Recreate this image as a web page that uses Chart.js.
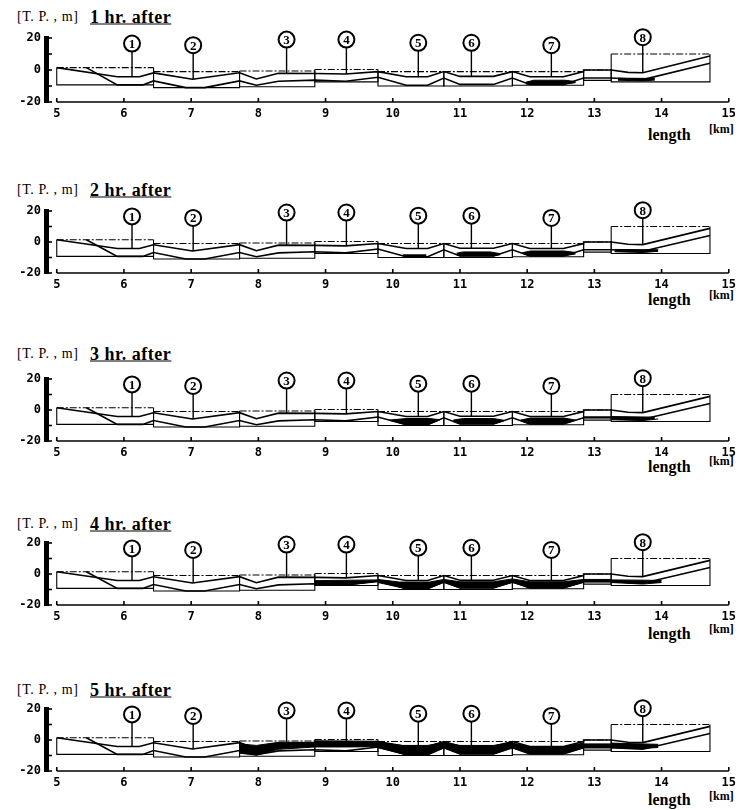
<!DOCTYPE html>
<html>
<head>
<meta charset="utf-8">
<script src="https://cdn.jsdelivr.net/npm/chart.js@4.4.0/dist/chart.umd.min.js"></script>
<style>
  body { margin:0; background:#fff; width:741px; height:810px; position:relative; overflow:hidden; font-family:"Liberation Serif", serif; color:#000; }
  canvas { position:absolute; left:0; }
  .unit { position:absolute; left:17px; font-size:14px; transform:translateY(-50%); letter-spacing:0.6px; }
  .ttl { position:absolute; left:90px; font-size:18px; font-weight:bold; text-decoration:underline; transform:translateY(-50%); letter-spacing:0.5px; }
  .len { position:absolute; left:648px; font-size:16px; font-weight:bold; transform:translateY(-50%); }
  .km { position:absolute; left:709px; font-size:12px; font-weight:bold; transform:translateY(-50%); white-space:nowrap; }
</style>
</head>
<body>
<script>
// ---- data (km along river, elevation T.P. m) ----
const xTicks = [5, 6, 7, 8, 9, 10, 11, 12, 13, 14, 15];
const yTicks = [-20, -10, 0, 10, 20];
const hours = ['1 hr. after', '2 hr. after', '3 hr. after', '4 hr. after', '5 hr. after'];

// section boundaries and box levels
const sectionEdges = [5.0, 6.44, 7.72, 8.84, 9.78, 10.76, 11.78, 12.84, 13.25, 14.72];
const boxTop    = [1.5, -1, -0.6, 0.3, -1, -1, -1, 0, 10];
const boxBottom = [-9.3, -11, -10.5, -7.4, -10, -10, -9.5, -6.5, -7.4];

const upperLine = [[5.0,1.5],[5.9,-4.2],[6.23,-4.2],[6.44,-1.8],[7.02,-5.8],[7.72,-1.7],[7.97,-5.6],[8.3,-2],[8.84,-2.2],
  [9.3,-2.5],[9.78,-1],[10.2,-4.2],[10.52,-4.2],[10.76,-1],[11.0,-4],[11.5,-4],[11.78,-1],[12.04,-4.2],[12.54,-4.2],
  [12.84,-1],[12.84,0],[13.25,0],[13.5,-1.5],[13.72,-1.7],[14.72,8.8]];
const lowerLine = [[5.44,1.5],[5.9,-9.3],[6.28,-9.3],[6.44,-6.8],[6.92,-11],[7.2,-11],[7.72,-6.8],[7.97,-9.5],[8.3,-7],
  [8.84,-6.3],[9.3,-7],[9.78,-4.5],[10.2,-9.5],[10.52,-9.5],[10.76,-5],[11.0,-9],[11.5,-9],[11.78,-5],[12.04,-9],
  [12.54,-9],[12.84,-5],[13.25,-5],[13.72,-6],[14.72,4.2]];

// circled section numbers
const labelNames = ['1', '2', '3', '4', '5', '6', '7', '8'];
const labelX     = [6.12, 7.03, 8.42, 9.31, 10.38, 11.17, 12.36, 13.72];
const labelY     = [16.5, 15.5, 19, 19, 17, 17, 15.5, 20.5];
const leaderTop  = [11.5, 10.5, 14, 14, 12, 12, 10.5, 15.5];
const leaderEnd  = [-4.2, -5.8, -2.1, -2.5, -4.2, -4, -4.2, -1.7];

// black deposit areas, top edge / bottom edge
const deposits1h = [
  { top: [[11.98,-7.6],[12.1,-6.4],[12.56,-6.4],[12.72,-7.2]], bot: [[11.98,-8.7],[12.04,-9],[12.54,-9],[12.72,-7.9]] },
  { top: [[13.35,-5.1],[13.9,-5.3]], bot: [[13.35,-6.4],[13.72,-6.8],[13.9,-6.3]] }
];
const deposits2h = [
  { top: [[10.15,-8.3],[10.5,-8.3]], bot: [[10.15,-9.5],[10.5,-9.5]] },
  { top: [[10.95,-7.2],[11.05,-6.4],[11.45,-6.4],[11.6,-7.5]], bot: [[10.95,-8.2],[11.0,-9],[11.5,-9],[11.6,-8.2]] },
  { top: [[11.92,-7],[12.05,-5.8],[12.55,-5.8],[12.72,-6.8]], bot: [[11.92,-7.2],[12.04,-9],[12.54,-9],[12.72,-7.7]] },
  { top: [[13.3,-4.8],[13.95,-5]], bot: [[13.3,-6.3],[13.72,-6.8],[13.95,-6]] }
];
const deposits3h = [
  { top: [[9.95,-6.5],[10.2,-5.5],[10.55,-5.5],[10.7,-6.3]], bot: [[9.95,-6.6],[10.2,-9.5],[10.52,-9.5],[10.7,-6.3]] },
  { top: [[10.9,-6.5],[11.05,-5.5],[11.5,-5.5],[11.65,-6.6]], bot: [[10.9,-7.2],[11.0,-9],[11.5,-9],[11.65,-7.1]] },
  { top: [[11.9,-6.5],[12.05,-5.2],[12.55,-5.2],[12.72,-6.5]], bot: [[11.9,-6.9],[12.04,-9],[12.54,-9],[12.72,-6.6]] },
  { top: [[12.84,-4.4],[13.25,-4.4]], bot: [[12.84,-5],[13.25,-5]] },
  { top: [[13.25,-4.2],[13.9,-4.6]], bot: [[13.25,-6.3],[13.72,-6.8],[13.95,-5.8]] }
];
const deposits4h = [
  { top: [[8.84,-4.3],[9.78,-3.8]], bot: [[8.84,-6.8],[9.3,-7.2],[9.78,-5]] },
  { top: [[9.78,-3.5],[10.1,-5.2],[10.55,-5.2],[10.76,-3.5]], bot: [[9.78,-5.5],[10.2,-9.5],[10.52,-9.5],[10.76,-5.5]] },
  { top: [[10.76,-3.5],[11.0,-5],[11.5,-5],[11.78,-3.2]], bot: [[10.76,-5.5],[11.0,-9],[11.5,-9],[11.78,-5.5]] },
  { top: [[11.78,-3.2],[12.04,-5],[12.54,-5],[12.84,-3.5]], bot: [[11.78,-5.5],[12.04,-9],[12.54,-9],[12.84,-5.5]] },
  { top: [[12.84,-3.5],[13.25,-3.5]], bot: [[12.84,-5],[13.25,-5]] },
  { top: [[13.25,-3.8],[13.75,-4],[14.0,-4.2]], bot: [[13.25,-5.5],[13.72,-6.5],[14.0,-5.5]] }
];
const deposits5h = [
  { top: [[7.72,-2.5],[7.97,-3.5],[8.3,-1.5],[8.84,-1.5]], bot: [[7.72,-8.5],[7.97,-9.8],[8.3,-6],[8.84,-4.5]] },
  { top: [[8.84,-0.5],[9.78,-0.8]], bot: [[8.84,-4.5],[9.3,-4.5],[9.78,-4.3]] },
  { top: [[9.78,-1.5],[10.15,-3.5],[10.52,-3.5],[10.76,-1.5]], bot: [[9.78,-5],[10.2,-9.5],[10.52,-9.5],[10.76,-5]] },
  { top: [[10.76,-1.5],[11.0,-3.5],[11.5,-3.5],[11.78,-1.5]], bot: [[10.76,-5],[11.0,-9],[11.5,-9],[11.78,-5]] },
  { top: [[11.78,-2],[12.04,-4.3],[12.54,-4.3],[12.84,-2]], bot: [[11.78,-5],[12.04,-8.7],[12.54,-8.7],[12.84,-5]] },
  { top: [[12.84,-2.5],[13.25,-2.5]], bot: [[12.84,-4.2],[13.25,-4.2]] },
  { top: [[13.25,-2],[13.7,-2.5],[13.95,-2.8]], bot: [[13.25,-5],[13.72,-5.5],[13.95,-4.8]] }
];
const depositsByHour = [deposits1h, deposits2h, deposits3h, deposits4h, deposits5h];

// ---- page layout (px) ----
const chartTop    = [38, 211, 379, 543, 709];
const chartBottom = [102, 273, 441, 605, 771];
const titleY  = [17, 190, 354, 524, 690];
const lengthY = [135, 300, 467, 634, 800];
const kmY     = [129, 295, 461, 629, 796];
const PAD_TOP = 14, X_AXIS_H = 24;

function pts(arr) { return arr.map(([x, y]) => ({ x, y })); }
function line(arr, extra) {
  return Object.assign({ data: pts(arr), borderColor: '#000', borderWidth: 1.4, pointRadius: 0,
    fill: false, tension: 0 }, extra || {});
}

const markerPlugin = {
  id: 'markers',
  afterDatasetsDraw(chart) {
    const { ctx, chartArea } = chart;
    const x = chart.scales.x, y = chart.scales.y;
    ctx.save();
    ctx.strokeStyle = '#000';
    // x axis line from first to last tick, ticks pointing up
    ctx.lineWidth = 1.6;
    ctx.beginPath();
    ctx.moveTo(x.getPixelForValue(xTicks[0]), chartArea.bottom);
    ctx.lineTo(x.getPixelForValue(xTicks[xTicks.length - 1]), chartArea.bottom);
    ctx.stroke();
    xTicks.forEach(v => {
      const px = x.getPixelForValue(v);
      ctx.beginPath(); ctx.moveTo(px, chartArea.bottom); ctx.lineTo(px, chartArea.bottom - 4); ctx.stroke();
    });
    yTicks.forEach(v => {
      const py = y.getPixelForValue(v);
      ctx.beginPath(); ctx.moveTo(chartArea.left, py); ctx.lineTo(chartArea.left + 6, py); ctx.stroke();
    });
    labelNames.forEach((n, i) => {
      const px = x.getPixelForValue(labelX[i]), py = y.getPixelForValue(labelY[i]);
      ctx.beginPath(); ctx.arc(px, py, 8, 0, Math.PI * 2);
      ctx.fillStyle = '#fff'; ctx.fill();
      ctx.lineWidth = 2; ctx.stroke();
      ctx.fillStyle = '#000';
      ctx.font = 'bold 13px "Liberation Serif"';
      ctx.textAlign = 'center'; ctx.textBaseline = 'middle';
      ctx.fillText(n, px, py + 1);
    });
    ctx.restore();
  }
};

function addText(cls, txt, top) {
  const d = document.createElement('div');
  d.className = cls; d.textContent = txt; d.style.top = top + 'px';
  document.body.appendChild(d);
}

hours.forEach((h, p) => {
  addText('unit', '[T. P. , m]', titleY[p]);
  addText('ttl', h, titleY[p]);
  addText('len', 'length', lengthY[p]);
  addText('km', '[km]', kmY[p]);

  const cv = document.createElement('canvas');
  cv.width = 741;
  cv.height = (chartBottom[p] - chartTop[p]) + PAD_TOP + X_AXIS_H;
  cv.style.top = (chartTop[p] - PAD_TOP) + 'px';
  document.body.appendChild(cv);

  const ds = [];
  // deposits (filled black between bottom edge and top edge)
  depositsByHour[p].forEach(d => {
    const bi = ds.length;
    ds.push(line(d.bot, { borderWidth: 1 }));
    ds.push(line(d.top, { borderWidth: 1, fill: { target: bi }, backgroundColor: '#000' }));
  });
  // section boxes
  for (let i = 0; i < boxTop.length; i++) {
    const x0 = sectionEdges[i], x1 = sectionEdges[i + 1];
    ds.push(line([[x0, boxTop[i]], [x0, boxBottom[i]], [x1, boxBottom[i]], [x1, boxTop[i]]], { borderWidth: 1.1 }));
    ds.push(line([[x0, boxTop[i]], [x1, boxTop[i]]], { borderWidth: 1.1, borderDash: [7, 2, 2, 2] }));
  }
  ds.push(line(upperLine, { borderWidth: 1.6 }));
  ds.push(line(lowerLine, { borderWidth: 1.6 }));
  // leader lines
  for (let i = 0; i < labelX.length; i++) {
    ds.push(line([[labelX[i], leaderTop[i]], [labelX[i], leaderEnd[i]]], { borderWidth: 1.4 }));
  }

  new Chart(cv, {
    type: 'line',
    data: { datasets: ds },
    options: {
      responsive: false,
      animation: false,
      devicePixelRatio: 1,
      layout: { padding: { top: PAD_TOP, right: 7, left: 0, bottom: 0 } },
      plugins: { legend: { display: false }, tooltip: { enabled: false } },
      scales: {
        x: {
          type: 'linear', min: 4.84, max: 15,
          afterBuildTicks: s => { s.ticks = xTicks.map(v => ({ value: v })); },
          afterFit: s => { s.height = X_AXIS_H; },
          grid: { display: false, drawTicks: false },
          border: { display: false },
          ticks: { color: '#000', padding: 5, maxRotation: 0, autoSkip: false,
                   font: { family: 'DejaVu Sans Mono', size: 12, weight: 'bold' } }
        },
        y: {
          min: -20, max: 20,
          afterBuildTicks: s => { s.ticks = yTicks.map(v => ({ value: v })); },
          afterFit: s => { s.width = 46; },
          grid: { display: true, drawOnChartArea: false, drawTicks: false },
          border: { display: true, color: '#000', width: 5 },
          ticks: { color: '#000', padding: 5,
                   font: { family: 'DejaVu Sans Mono', size: 12, weight: 'bold' } }
        }
      }
    },
    plugins: [markerPlugin]
  });
});
</script>
</body>
</html>
